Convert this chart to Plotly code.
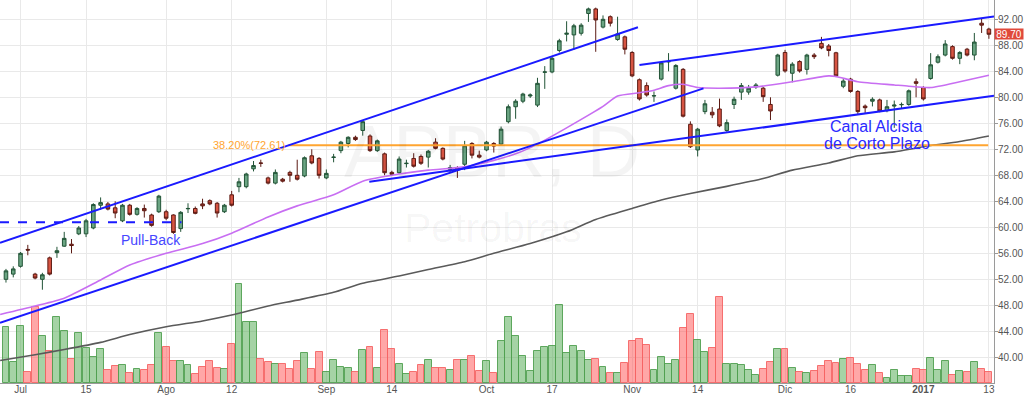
import plotly.graph_objects as go

# ---------------- data ----------------
opens = [52.0, 52.8, 54.0, 56.6, 52.8, 52.0, 55.3, 56.1, 57.1, 57.4,
         59.0, 59.0, 59.9, 63.4, 63.6, 63.0, 61.0, 63.4, 62.0, 62.9,
         61.9, 62.4, 62.4, 61.9, 59.8, 62.85, 62.9, 63.6, 64.1, 63.7,
         62.4, 65.0, 66.25, 66.25, 69.0, 69.9, 67.6, 66.8, 67.4, 68.45,
         68.0, 67.9, 71.0, 70.6, 67.6, 70.75, 71.8, 72.9, 73.85, 74.9,
         74.05, 71.8, 71.3, 68.45, 68.4, 69.8, 70.6, 70.9, 70.8, 73.1,
         72.15, 68.9, 69.2, 69.7, 72.9, 71.1, 71.9, 72.9, 72.8, 76.25,
         78.55, 79.4, 80.2, 78.8, 83.85, 83.9, 87.2, 89.7, 89.6, 89.85,
         92.9, 93.6, 90.8, 92.4, 88.9, 89.3, 86.9, 82.7, 81.8, 80.2,
         82.8, 85.45, 81.4, 84.3, 75.85, 71.9, 77.8, 77.7, 78.2, 74.9,
         78.9, 80.8, 80.8, 81.6, 81.4, 78.9, 83.4, 86.9, 83.7, 85.5,
         84.3, 86.5, 88.3, 87.9, 86.85, 81.7, 82.8, 80.9, 78.65, 79.4,
         79.6, 77.95, 78.65, 78.85, 78.9, 82.4, 81.5, 82.9, 85.4, 86.5,
         87.8, 86.0, 87.4, 86.5, 91.4, 90.5]
highs = [53.6, 54.0, 56.2, 57.3, 53.0, 53.0, 55.5, 57.0, 59.3, 58.2,
         60.2, 61.3, 63.7, 64.6, 63.9, 64.0, 63.6, 63.6, 63.1, 63.5,
         62.1, 65.0, 62.7, 62.0, 62.5, 63.7, 63.2, 64.4, 64.3, 63.9,
         63.6, 65.6, 67.6, 68.4, 70.2, 70.4, 67.8, 68.9, 67.6, 68.7,
         70.4, 70.9, 72.0, 70.8, 68.9, 71.3, 73.3, 74.0, 74.1, 76.5,
         74.3, 73.5, 71.5, 68.7, 70.9, 70.4, 71.4, 71.2, 71.9, 73.7,
         72.3, 69.6, 69.4, 73.3, 73.1, 71.8, 73.3, 73.1, 75.5, 78.9,
         79.7, 80.7, 80.6, 83.0, 84.8, 86.2, 89.0, 91.7, 91.3, 91.4,
         93.8, 93.8, 92.6, 92.6, 92.4, 89.5, 87.1, 82.9, 82.3, 80.9,
         85.5, 86.8, 85.1, 84.5, 76.3, 75.3, 79.6, 78.5, 79.8, 76.6,
         80.1, 82.2, 81.9, 82.2, 81.6, 80.0, 86.7, 87.3, 85.4, 85.7,
         86.7, 86.8, 89.3, 88.2, 87.0, 82.8, 83.0, 81.1, 78.9, 80.0,
         79.8, 79.6, 79.5, 79.2, 81.2, 82.9, 81.7, 86.8, 86.6, 88.8,
         88.0, 87.1, 87.6, 89.9, 92.2, 90.7]
lows = [51.5, 52.3, 53.8, 55.7, 52.0, 50.4, 52.6, 55.3, 57.0, 56.0,
        58.8, 58.5, 59.7, 62.7, 62.6, 61.4, 60.8, 61.8, 61.8, 61.5,
        60.1, 62.2, 61.1, 59.0, 59.3, 62.2, 62.0, 62.8, 63.4, 61.5,
        62.2, 63.2, 65.4, 66.0, 68.6, 69.3, 66.6, 66.6, 66.9, 67.0,
        67.2, 67.7, 69.7, 67.5, 67.4, 70.0, 71.4, 72.3, 73.3, 74.1,
        71.6, 71.6, 68.0, 67.9, 68.2, 69.2, 69.2, 69.6, 69.2, 72.0,
        70.3, 68.4, 67.6, 68.8, 70.6, 70.6, 71.7, 71.5, 72.6, 76.0,
        76.7, 79.1, 79.9, 78.5, 81.3, 83.7, 86.9, 88.6, 87.3, 89.5,
        91.6, 87.0, 90.6, 90.9, 88.7, 86.6, 83.1, 79.5, 80.1, 79.3,
        82.6, 84.0, 81.2, 76.9, 72.2, 70.9, 77.4, 76.8, 75.4, 74.7,
        78.2, 79.6, 80.4, 81.3, 79.3, 76.5, 83.2, 83.8, 82.3, 83.8,
        83.5, 85.9, 87.4, 86.3, 83.1, 81.4, 80.7, 77.4, 77.6, 78.6,
        77.7, 77.7, 75.3, 78.3, 78.7, 80.0, 79.5, 82.7, 85.2, 86.3,
        85.8, 85.1, 86.3, 85.7, 89.9, 89.0]
closes = [53.3, 53.6, 56.0, 56.5, 52.2, 52.7, 52.8, 56.4, 58.3, 57.2,
          59.9, 61.0, 63.5, 63.8, 62.8, 62.2, 63.4, 62.0, 62.9, 62.55,
          60.3, 64.8, 61.4, 59.2, 62.3, 62.9, 62.15, 63.3, 63.6, 62.2,
          63.4, 63.4, 67.0, 68.2, 69.5, 69.85, 66.8, 68.45, 67.1, 68.0,
          67.4, 70.7, 69.9, 68.0, 68.3, 70.8, 73.1, 73.85, 73.5, 76.25,
          71.8, 73.3, 68.4, 68.15, 70.5, 69.85, 69.4, 69.85, 71.7, 72.15,
          70.5, 69.2, 68.8, 72.55, 71.1, 70.8, 73.1, 72.5, 75.1, 78.55,
          79.4, 80.5, 80.35, 82.15, 83.9, 86.0, 88.7, 89.85, 91.0, 91.1,
          93.6, 91.9, 92.0, 91.4, 89.75, 87.4, 83.3, 79.75, 80.35, 80.25,
          85.3, 85.5, 84.9, 77.1, 72.4, 75.1, 79.0, 77.3, 75.6, 76.1,
          79.7, 81.8, 81.4, 81.9, 80.1, 77.9, 86.5, 84.05, 85.1, 84.05,
          86.5, 86.25, 87.6, 87.2, 83.3, 82.5, 80.9, 77.8, 78.4, 79.7,
          77.9, 78.55, 78.8, 78.9, 81.0, 82.15, 79.75, 85.0, 86.25, 88.2,
          86.0, 86.9, 86.5, 88.5, 91.1, 89.7]
volumes = [28.2, 10.5, 28.5, 5.5, 38.2, 23.7, 15.9, 33.2, 25.9, 11.9,
           25.2, 17.5, 12.9, 16.9, 6.5, 8.5, 9.0, 5.2, 7.0, 6.5,
           9.0, 24.9, 18.2, 10.9, 10.9, 9.0, 4.5, 8.2, 10.9, 7.4,
           6.9, 19.4, 49.4, 30.4, 30.4, 11.9, 10.4, 9.5, 9.5, 6.9,
           10.9, 14.9, 6.9, 15.4, 5.7, 11.5, 7.8, 7.4, 5.7, 16.4,
           18.0, 7.7, 26.4, 17.2, 9.7, 4.5, 5.4, 8.9, 11.4, 7.4,
           7.4, 6.4, 11.5, 11.5, 13.4, 6.0, 10.9, 4.9, 20.9, 33.2,
           23.5, 13.7, 6.0, 15.9, 17.9, 18.4, 39.0, 14.9, 18.4, 15.9,
           11.5, 11.9, 8.0, 4.9, 4.9, 9.9, 21.2, 21.9, 19.2, 6.4,
           12.9, 9.5, 11.5, 27.7, 34.4, 21.5, 15.5, 17.5, 43.0, 9.5,
           9.5, 9.0, 6.4, 4.0, 6.9, 10.4, 17.2, 17.2, 7.7, 5.4,
           4.9, 6.0, 8.5, 10.9, 10.0, 11.9, 12.4, 9.7, 6.4, 8.9,
           4.9, 2.4, 6.4, 3.4, 3.7, 6.9, 6.4, 12.4, 6.4, 10.9,
           4.0, 6.0, 5.4, 10.4, 6.9, 5.4]

# moving averages (bar index, price)
ma_fast_idx = [-0.8, 4, 8, 13, 17, 22, 27, 31, 36, 40, 45, 49, 54, 58, 63, 67, 70, 73, 77,
               82, 84, 87, 89, 91, 93, 95, 98, 103, 108, 113, 114, 117, 122, 124, 127, 131, 135]
ma_fast = [46.6, 47.9, 49.1, 51.9, 54.2, 56.0, 57.5, 59.1, 61.6, 63.3, 65.0, 67.1, 68.2, 68.8,
           69.3, 70.3, 71.3, 72.8, 75.3, 78.6, 80.2, 80.7, 81.1, 81.8, 82.0, 81.5, 81.4, 81.6,
           82.4, 83.3, 83.2, 82.4, 81.9, 81.7, 81.5, 82.4, 83.4]
ma_slow_idx = [-0.8, 4, 8, 13, 17, 22, 27, 31, 36, 40, 45, 49, 54, 58, 63, 67, 72, 77, 81, 86,
               90, 94, 99, 104, 108, 113, 117, 122, 126, 131, 135]
ma_slow = [39.5, 40.4, 41.2, 42.3, 43.5, 44.7, 45.6, 46.5, 47.9, 48.8, 50.0, 51.4, 52.5, 53.5,
           54.7, 56.0, 57.5, 59.3, 61.2, 62.9, 64.2, 65.2, 66.3, 67.5, 68.8, 69.9, 71.0, 71.6,
           72.4, 73.2, 74.05]

# drawn trend lines (start/end bar index and price)
upper_long_x, upper_long_y = [-0.82, 86.8], [57.63, 90.77]
lower_long_x, lower_long_y = [-0.82, 95.8], [45.32, 81.38]
lower_short_x, lower_short_y = [49.9, 135.7], [67.02, 80.25]
upper_short_x, upper_short_y = [87.0, 135.7], [84.97, 92.42]
pullback_x, pullback_y = [-0.82, 24.1], [60.77, 60.77]
fib_x, fib_y = [38.8, 134.9], [72.61, 72.61]
fib_label = "38.20%(72.61)"
last_price = 89.70

tick_idx = [2, 11, 22, 31, 44, 53, 66, 75, 86, 95, 107, 116, 126, 135]
tick_labels = ["Jul", "15", "Ago", "12", "Sep", "14", "Oct", "17", "Nov", "14", "Dic", "16",
               "<b>2017</b>", "13"]

idx = list(range(len(opens)))

# ---------------- figure ----------------
fig = go.Figure()

up = [c >= o for o, c in zip(opens, closes)]
vol_fill = ['rgba(76,168,76,0.5)' if u else 'rgba(255,80,80,0.5)' for u in up]
vol_line = ['rgba(80,160,80,0.9)' if u else 'rgba(245,100,100,0.9)' for u in up]

fig.add_trace(go.Bar(x=idx, y=volumes, yaxis='y', marker=dict(color=vol_fill,
                     line=dict(color=vol_line, width=1)), width=0.95, hoverinfo='skip'))

fig.add_trace(go.Scatter(x=ma_slow_idx, y=ma_slow, yaxis='y2', mode='lines',
                         line=dict(color='#5a5a5a', width=1.6, shape='spline', smoothing=0.6)))
fig.add_trace(go.Scatter(x=ma_fast_idx, y=ma_fast, yaxis='y2', mode='lines',
                         line=dict(color='#c86ef2', width=1.6, shape='spline', smoothing=0.6)))

fig.add_trace(go.Scatter(x=fib_x, y=fib_y, yaxis='y2', mode='lines',
                         line=dict(color='#ffa530', width=2)))

for lx, ly in [(upper_long_x, upper_long_y), (lower_long_x, lower_long_y),
               (lower_short_x, lower_short_y), (upper_short_x, upper_short_y)]:
    fig.add_trace(go.Scatter(x=lx, y=ly, yaxis='y2', mode='lines',
                             line=dict(color='#1a1aff', width=2)))
fig.add_trace(go.Scatter(x=pullback_x, y=pullback_y, yaxis='y2', mode='lines',
                         line=dict(color='#1a1aff', width=2, dash='dash')))

fig.add_trace(go.Candlestick(
    x=idx, open=opens, high=highs, low=lows, close=closes, yaxis='y2',
    increasing=dict(line=dict(color='#225437', width=1), fillcolor='#6ba583'),
    decreasing=dict(line=dict(color='#5b1a13', width=1), fillcolor='#d75442'),
    whiskerwidth=0))

ann = [
    dict(x=66.8, y=71.6, text="APBR, D", font=dict(size=74, color='rgba(0,0,0,0.045)')),
    dict(x=66.9, y=59.9, text="Petrobras", font=dict(size=41, color='rgba(0,0,0,0.045)')),
    dict(x=38.6, y=72.61, text=fib_label, xanchor='right', font=dict(size=11, color='#ffa530')),
    dict(x=19.9, y=58.05, text="Pull-Back", font=dict(size=14, color='#4646ff')),
    dict(x=119.6, y=75.6, text="Canal Alcista", font=dict(size=16, color='#2a2aff'), height=16),
    dict(x=119.6, y=72.9, text="de Corto Plazo", font=dict(size=16, color='#2a2aff'), height=16),
]
annotations = []
for a in ann:
    d = dict(xref='x', yref='y2', showarrow=False, yanchor='middle')
    d.update(a)
    annotations.append(d)
annotations.append(dict(xref='paper', x=1, xanchor='left', yref='y2', y=last_price,
                        yanchor='middle', text=f"{last_price:.2f}", showarrow=False,
                        bgcolor='#e0493b', font=dict(size=10, color='white'),
                        width=28, height=10, borderpad=0))

fig.update_layout(
    width=1024, height=397,
    margin=dict(l=0, r=30, t=0, b=14),
    paper_bgcolor='white', plot_bgcolor='white', showlegend=False,
    font=dict(family='Liberation Sans, Arial, sans-serif', size=10, color='#555555'),
    xaxis=dict(range=[-0.82, 135.7], tickmode='array', tickvals=tick_idx, ticktext=tick_labels,
               showgrid=True, gridcolor='#e9e9e9', gridwidth=1, zeroline=False,
               showline=True, linecolor='#9a9a9a', ticks='', ticklabelstandoff=-3,
               tickfont=dict(size=10, color='#555555'), rangeslider=dict(visible=False)),
    yaxis=dict(range=[0, 191.5], visible=False, showgrid=False, zeroline=False),
    yaxis2=dict(overlaying='y', side='right', range=[36.05, 94.97], tick0=0, dtick=4,
                tickformat='.2f', showgrid=True, gridcolor='#e9e9e9', zeroline=False,
                showline=True, linecolor='#9a9a9a', ticks='outside', ticklen=3,
                tickcolor='#9a9a9a', ticklabelstandoff=-2,
                tickfont=dict(size=10, color='#555555')),
    annotations=annotations,
    bargap=0,
)

fig.write_html("out.html", config={'displayModeBar': False},
               post_script="document.body.style.margin='0';")
